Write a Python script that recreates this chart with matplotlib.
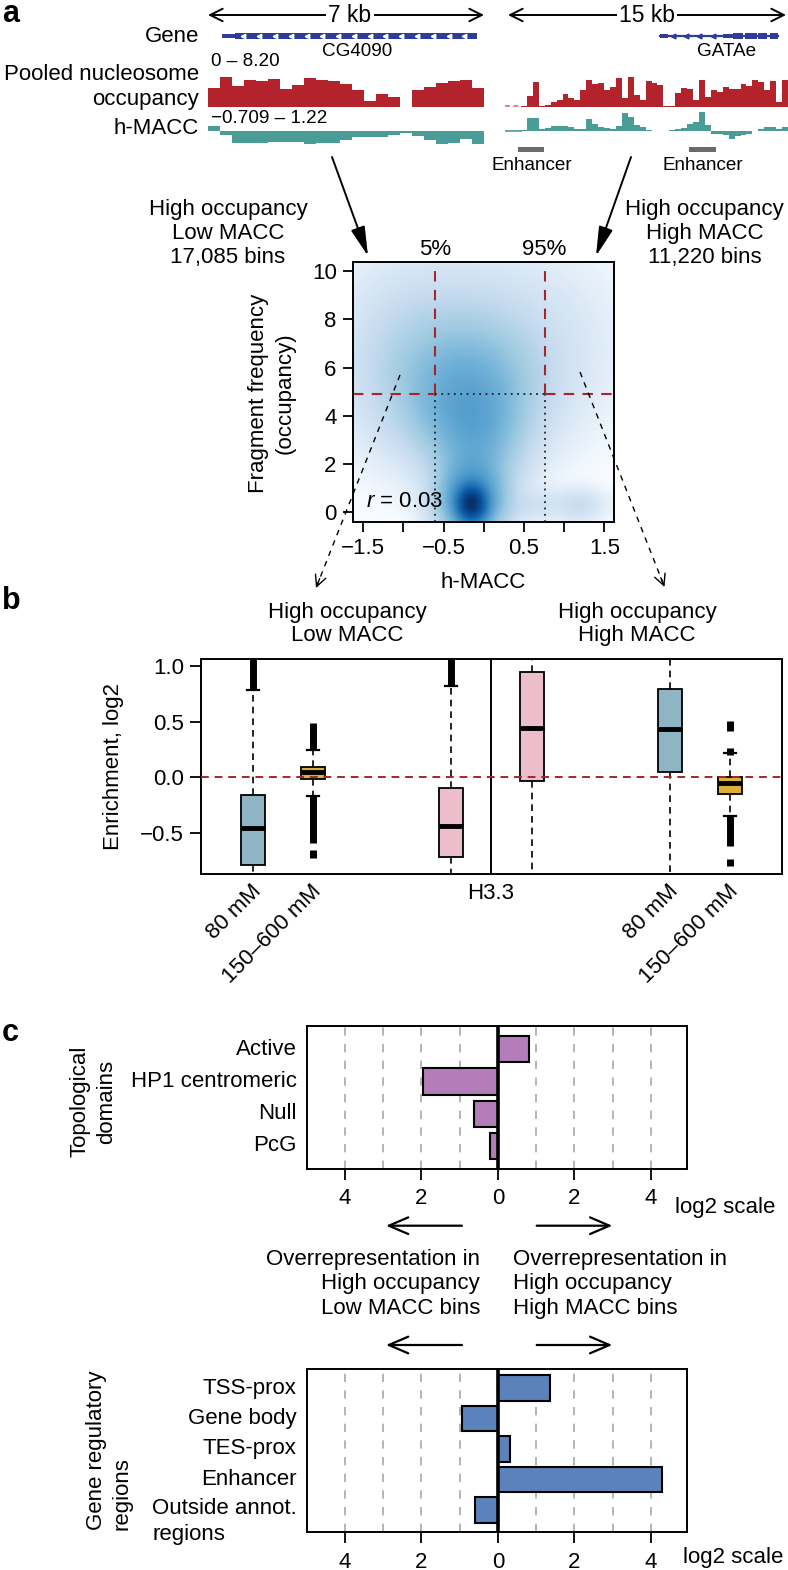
import numpy as np
import matplotlib
matplotlib.use("Agg")
import matplotlib.pyplot as plt
import matplotlib.transforms as mtransforms
from matplotlib.colors import LinearSegmentedColormap
from matplotlib.patches import Rectangle

plt.rcParams['font.family'] = ['Liberation Sans', 'DejaVu Sans']
plt.rcParams['mathtext.fontset'] = 'custom'
plt.rcParams['mathtext.rm'] = 'Liberation Sans'
plt.rcParams['mathtext.it'] = 'Liberation Sans:italic'
plt.rcParams['axes.linewidth'] = 1.4

# ---------------- data ----------------
# panel a: genome browser tracks
occ_left = [5.2, 8.2, 5.7, 7.4, 7.0, 7.7, 4.9, 5.9, 7.9, 7.5, 7.0, 6.3, 4.7, 1.7,
            3.6, 2.7, 0.1, 4.6, 5.5, 6.6, 7.0, 7.3, 5.2]
macc_left = [0.29, -0.20, -0.64, -0.64, -0.64, -0.56, -0.56, -0.56, -0.70, -0.61,
             -0.61, -0.47, -0.29, -0.29, -0.32, -0.20, -0.11, -0.25, -0.47, -0.70,
             -0.61, -0.43, -0.70]
occ_right = [0.36, 2.9, 6.7, 0.36, 0.64, 1.3, 2.0, 3.6, 2.5, 1.8, 4.7, 7.3, 6.4, 6.6,
             4.6, 5.5, 7.9, 2.5, 8.2, 3.4, 2.0, 7.0, 6.6, 5.9, 0.2, 0.2, 3.8, 5.2, 4.9,
             2.0, 7.5, 2.6, 4.6, 4.0, 5.5, 4.9, 4.9, 6.4, 5.8, 7.3, 6.7, 4.7, 7.0, 1.5, 7.5]
macc_right = [0.05, 0.72, 0.72, 0.14, 0.18, 0.27, 0.27, 0.27, 0.23, 0.14, 0.14, 0.64,
              0.41, 0.23, 0.18, 0.11, 0.27, 1.0, 0.77, 0.32, 0.23, 0.09, 0.02, 0.0,
              0.0, 0.09, 0.14, 0.20, 0.41, 0.50, 1.04, 0.32, -0.13, -0.13, -0.21,
              -0.39, -0.25, -0.18, -0.13, 0.0, 0.14, 0.23, 0.23, 0.11, 0.23]
occ_range = (0, 8.20)
macc_range = (-0.709, 1.22)
left_window_kb = 7
right_window_kb = 15
right_missing_kb = 0.85
gene1_span = (0.355, 6.82)
gene1_utr = (0.355, 0.68)
gene1_chevrons = [0.9, 1.3, 1.7, 2.1, 2.5, 2.9, 3.3, 3.7, 4.1, 4.5, 4.9, 5.3, 5.7, 6.1, 6.5]
gene2_span = (8.21, 14.47)
gene2_exons = [(8.21, 8.64, 0.3), (11.55, 12.1, 0.3), (12.1, 12.6, 0.5),
               (12.74, 13.36, 0.5), (13.42, 13.87, 0.5), (14.05, 14.47, 0.5)]
gene2_chevrons = [8.9, 9.6, 10.3, 11.0]
enhancers_kb = [(0.67, 2.08), (9.77, 11.18)]

# density (smoothed scatter) components: centre x, centre y, sd x, sd y, weight
dens_cx = [-0.15, -0.15, -0.10, -0.20, -0.25, -0.30, 0.60, 1.20, -1.0, 0.9]
dens_cy = [0.35, 0.60, 2.80, 4.20, 5.50, 6.50, 0.30, 0.30, 6.5, 7.5]
dens_sx = [0.11, 0.22, 0.30, 0.40, 0.50, 0.80, 0.50, 0.15, 0.35, 0.5]
dens_sy = [0.45, 0.90, 1.30, 1.20, 1.50, 2.20, 0.40, 0.40, 2.0, 2.0]
dens_w = [1.0, 0.25, 0.08, 0.07, 0.08, 0.02, 0.008, 0.008, 0.006, 0.002]
pct5 = -0.608
pct95 = 0.756
occ_threshold = 4.89
corr_r = 0.03

# panel b: box plots
box_pos = [1.0, 2.0, 4.3, 5.65, 7.95, 8.95]
box_labels = ['80 mM', '150–600 mM', '', '', '80 mM', '150–600 mM']
box_q1 = [-0.79, -0.015, -0.713, -0.03, 0.048, -0.15]
box_med = [-0.458, 0.048, -0.435, 0.44, 0.43, -0.054]
box_q3 = [-0.159, 0.095, -0.099, 0.943, 0.79, 0.0]
box_whislo = [-1.2, -0.165, -1.2, -1.2, -1.2, -0.348]
box_whishi = [0.785, 0.245, 0.82, 1.3, 1.3, 0.22]
box_outlier_ranges = [[(0.785, 1.1)],
                      [(0.245, 0.485), (-0.593, -0.165), (-0.722, -0.653)],
                      [(0.82, 1.1)],
                      [],
                      [],
                      [(0.42, 0.51), (0.20, 0.26), (-0.62, -0.348), (-0.80, -0.73)]]
box_colors = ['#8FB4C4', '#DAB03A', '#ECBECC', '#ECBECC', '#8FB4C4', '#DAB03A']
group_sep = 4.97
sep_label = 'H3.3'

# panel c: enrichment bars
topo_cats = ['Active', 'HP1 centromeric', 'Null', 'PcG']
topo_vals = [0.8, -1.96, -0.63, -0.22]
reg_cats = ['TSS-prox', 'Gene body', 'TES-prox', 'Enhancer', 'Outside annot.\nregions']
reg_vals = [1.36, -0.93, 0.31, 4.3, -0.59]
bar_ticks = [-4, -2, 0, 2, 4]
bar_grid = [-4, -3, -2, -1, 1, 2, 3, 4]

# ---------------- figure ----------------
W, H = 788, 1570
fig = plt.figure(figsize=(W / 100, H / 100), dpi=100)


def px_axes(x0, y0, x1, y1):
    return fig.add_axes([x0 / W, 1 - y1 / H, (x1 - x0) / W, (y1 - y0) / H])


RED = '#B3232B'
TEAL = '#4A9C96'
GBLUE = '#2E3B9B'
DRED = '#A3282C'
FS = 16

# ---- panel a tracks ----
def track(x0, x1, y0, y1, xmax, ylim):
    ax = px_axes(x0, y0, x1, y1)
    ax.set_xlim(0, xmax)
    ax.set_ylim(*ylim)
    ax.axis('off')
    return ax

# genes
ag1 = track(208, 484, 30, 42, left_window_kb, (-1, 1))
ag1.add_patch(Rectangle((gene1_utr[1], -0.5), gene1_span[1] - gene1_utr[1], 1.0, color=GBLUE, lw=0))
ag1.add_patch(Rectangle((gene1_utr[0], -0.3), gene1_utr[1] - gene1_utr[0], 0.6, color=GBLUE, lw=0))
ag1.plot(gene1_chevrons, [0] * len(gene1_chevrons), ls='none', marker='<', ms=3.2,
         mfc='white', mec='white')
ag2 = track(505, 788, 30, 42, right_window_kb, (-1, 1))
ag2.plot(gene2_span, [0, 0], color=GBLUE, lw=1.6)
for s, e, hh in gene2_exons:
    ag2.add_patch(Rectangle((s, -hh), e - s, 2 * hh, color=GBLUE, lw=0))
ag2.plot(gene2_chevrons, [0] * len(gene2_chevrons), ls='none', marker='<', ms=3.5,
         mfc=GBLUE, mec=GBLUE)

# occupancy
ar1 = track(208, 484, 77, 107, left_window_kb, occ_range)
w1 = left_window_kb / len(occ_left)
ar1.bar([i * w1 for i in range(len(occ_left))], occ_left, width=w1, align='edge', color=RED, lw=0)
ar2 = track(505, 788, 77, 107, right_window_kb, occ_range)
w2 = (right_window_kb - right_missing_kb) / len(occ_right)
ar2.bar([right_missing_kb + i * w2 for i in range(len(occ_right))], occ_right, width=w2,
        align='edge', color=RED, lw=0)
ar2.plot([0, right_missing_kb], [0.25, 0.25], color='#E07070', lw=1.2, ls=(0, (3, 2)))

# h-MACC
at1 = track(208, 484, 108.6, 144.5, left_window_kb, macc_range)
at1.bar([i * w1 for i in range(len(macc_left))], macc_left, width=w1, align='edge', color=TEAL, lw=0)
at2 = track(505, 788, 108.6, 144.5, right_window_kb, macc_range)
at2.bar([right_missing_kb + i * w2 for i in range(len(macc_right))], macc_right, width=w2,
        align='edge', color=TEAL, lw=0)
at2.plot([0, right_missing_kb], [0, 0], color=TEAL, lw=1.2)

# enhancers
ae = track(505, 788, 146, 153, right_window_kb, (0, 1))
for s, e in enhancers_kb:
    ae.add_patch(Rectangle((s, 0.1), e - s, 0.8, color='#6A6A6A', lw=0))

# ---- density plot ----
axd = px_axes(353.3, 262.3, 614, 521.7)
xl = (-1.624, 1.62)
yl = (-0.39, 10.36)
xs = np.linspace(xl[0], xl[1], 400)
ys = np.linspace(yl[0], yl[1], 400)
X, Y = np.meshgrid(xs, ys)
Z = np.zeros_like(X)
for cx, cy, sx, sy, wt in zip(dens_cx, dens_cy, dens_sx, dens_sy, dens_w):
    Z += wt * np.exp(-0.5 * (((X - cx) / sx) ** 2 + ((Y - cy) / sy) ** 2))
Z = (Z / Z.max()) ** 0.25
blues9 = ["#F7FBFF", "#DEEBF7", "#C6DBEF", "#9ECAE1", "#6BAED6", "#4292C6",
          "#2171B5", "#08519C", "#08306B"]
cmap = LinearSegmentedColormap.from_list('smooth', ['#FFFFFF'] + blues9)
axd.imshow(Z, origin='lower', extent=[xl[0], xl[1], yl[0], yl[1]], cmap=cmap,
           aspect='auto', vmin=0, vmax=1, interpolation='bilinear')
axd.set_xlim(*xl)
axd.set_ylim(*yl)
red_ls = (0, (5, 4))
dot_ls = (0, (1, 2.5))
for xv in (pct5, pct95):
    axd.plot([xv, xv], [occ_threshold, yl[1]], color=DRED, lw=1.5, ls=red_ls)
    axd.plot([xv, xv], [yl[0], occ_threshold], color='#222222', lw=1.3, ls=dot_ls)
axd.plot([xl[0], pct5], [occ_threshold] * 2, color=DRED, lw=1.5, ls=red_ls)
axd.plot([pct95, xl[1]], [occ_threshold] * 2, color=DRED, lw=1.5, ls=red_ls)
axd.plot([pct5, pct95], [occ_threshold] * 2, color='#222222', lw=1.3, ls=dot_ls)
axd.set_xticks([-1.5, -1, -0.5, 0, 0.5, 1, 1.5])
axd.set_xticklabels(['−1.5', '', '−0.5', '', '0.5', '', '1.5'], fontsize=FS)
axd.set_yticks([0, 2, 4, 6, 8, 10])
axd.set_yticklabels(['0', '2', '4', '6', '8', '10'], fontsize=FS)
axd.tick_params(direction='out', length=7, width=1.3, pad=5)
axd.text(-1.466, 0.45, '$\\it{r}$ = %.2f' % corr_r, fontsize=FS, ha='left', va='center')
axd.text(pct5, 10.87, '5%', fontsize=FS, ha='center', va='center', clip_on=False)
axd.text(pct95, 10.87, '95%', fontsize=FS, ha='center', va='center', clip_on=False)

# ---- box plot ----
axb = px_axes(200.7, 659, 782.3, 874.3)
stats = [dict(med=m, q1=a, q3=b, whislo=lo, whishi=hi, fliers=[])
         for m, a, b, lo, hi in zip(box_med, box_q1, box_q3, box_whislo, box_whishi)]
bp = axb.bxp(stats, positions=box_pos, widths=0.4, patch_artist=True, showfliers=False,
             boxprops=dict(linewidth=1.3, edgecolor='black'),
             medianprops=dict(color='black', linewidth=3.5, solid_capstyle='butt'),
             whiskerprops=dict(linestyle=(0, (4, 3)), linewidth=1.2, color='black'),
             capprops=dict(linewidth=1.6, color='black'), capwidths=0.2, manage_ticks=False)
for patch, c in zip(bp['boxes'], box_colors):
    patch.set_facecolor(c)
for p, rngs in zip(box_pos, box_outlier_ranges):
    for lo, hi in rngs:
        axb.plot([p, p], [lo, hi], color='black', lw=5, solid_capstyle='butt', zorder=4)
axb.axhline(0, color=DRED, lw=1.4, ls=(0, (4, 3)), zorder=5)
axb.axvline(group_sep, color='black', lw=1.4)
axb.set_xlim(0.133, 9.827)
axb.set_ylim(-0.871, 1.063)
axb.set_xticks([])
axb.set_yticks([-0.5, 0, 0.5, 1.0])
axb.set_yticklabels(['−0.5', '0.0', '0.5', '1.0'], fontsize=FS)
axb.tick_params(axis='y', direction='out', length=8, width=1.3, pad=4)
btrans = mtransforms.blended_transform_factory(axb.transData, axb.transAxes)
for p, lab in zip(box_pos, box_labels):
    if lab:
        axb.text(p + 0.09, -0.063, lab, transform=btrans, fontsize=FS, rotation=45,
                 rotation_mode='anchor', ha='right', va='center', clip_on=False)
axb.text(group_sep, -0.088, sep_label, transform=btrans, fontsize=FS, ha='center',
         va='center', clip_on=False)

# ---- bar charts ----
def barchart(y0, y1, cats, vals, color, ylim, height):
    ax = px_axes(306.7, y0, 687.3, y1)
    pos = list(range(len(cats)))
    for g in bar_grid:
        ax.axvline(g, color='#A8A8A8', lw=1.2, ls=(0, (5, 5)), zorder=0)
    ax.barh(pos, vals, height=height, color=color, edgecolor='black', lw=1.5, zorder=2)
    ax.axvline(0, color='black', lw=2.6, zorder=3)
    ax.set_xlim(-5, 4.95)
    ax.set_ylim(*ylim)
    ax.set_yticks([])
    ax.set_xticks(bar_ticks)
    ax.set_xticklabels([str(abs(t)) for t in bar_ticks], fontsize=FS)
    ax.tick_params(axis='x', direction='out', length=8, width=1.3, pad=6)
    tr = mtransforms.blended_transform_factory(ax.transAxes, ax.transData)
    for p, c in zip(pos, cats):
        if '\n' in c:
            ax.text(-0.026, p - 0.38, c, transform=tr, fontsize=FS, ha='right', va='top',
                    multialignment='left', linespacing=1.3)
        else:
            ax.text(-0.026, p, c, transform=tr, fontsize=FS, ha='right', va='center')
    return ax

ac1 = barchart(1025.7, 1169, topo_cats, topo_vals, '#B27DB9', (3.714, -0.733), 0.81)
ac2 = barchart(1369.3, 1532.3, reg_cats, reg_vals, '#5B82BA', (4.74, -0.62), 0.84)

# ---------------- overlay: labels & arrows ----------------
ov = fig.add_axes([0, 0, 1, 1])
ov.set_xlim(0, W)
ov.set_ylim(H, 0)
ov.axis('off')
ov.patch.set_visible(False)


def T(x, y, s, size=FS, ha='center', va='center', **kw):
    ov.text(x, y, s, fontsize=size, ha=ha, va=va, **kw)


def arrow(x0, y0, x1, y1, style='->', lw=1.4, ms=18, ls='-'):
    ov.annotate('', xy=(x1, y1), xytext=(x0, y0),
                arrowprops=dict(arrowstyle=style, lw=lw, color='black', mutation_scale=ms,
                                shrinkA=0, shrinkB=0, linestyle=ls))

# panel letters
T(2, 14, 'a', size=22, ha='left', weight='bold')
T(2, 601, 'b', size=22, ha='left', weight='bold')
T(2, 1033, 'c', size=22, ha='left', weight='bold')

# panel a
arrow(350, 15, 208, 15, style='->, head_length=0.5, head_width=0.25')
arrow(350, 15, 484, 15, style='->, head_length=0.5, head_width=0.25')
T(350, 15, '7 kb', size=16.5, bbox=dict(facecolor='white', edgecolor='none', pad=1.5))
arrow(647, 15, 508, 15, style='->, head_length=0.5, head_width=0.25')
arrow(647, 15, 786, 15, style='->, head_length=0.5, head_width=0.25')
T(647, 15, '15 kb', size=16.5, bbox=dict(facecolor='white', edgecolor='none', pad=1.5))
T(199, 37, 'Gene', ha='right')
T(199, 86.5, 'Pooled nucleosome\noccupancy', ha='right', multialignment='right', linespacing=1.25)
T(199, 128.5, 'h-MACC', ha='right')
T(211, 62, '0 – 8.20', size=13.6, ha='left')
T(211, 118.5, '−0.709 – 1.22', size=13.6, ha='left')
T(357, 52, 'CG4090', size=13.6)
T(727, 52, 'GATAe', size=13.6)
T(531.7, 165, 'Enhancer', size=13.6)
T(703.3, 165, 'Enhancer', size=13.6)

arrow(332, 157, 368, 256, style='-|>, head_length=0.9, head_width=0.22', lw=1.4, ms=20)
arrow(631, 157, 596, 256, style='-|>, head_length=0.9, head_width=0.22', lw=1.4, ms=20)
T(228, 233.3, 'High occupancy\nLow MACC\n17,085 bins', linespacing=1.2)
T(704.5, 233.3, 'High occupancy\nHigh MACC\n11,220 bins', linespacing=1.2)

T(272, 393, 'Fragment frequency\n(occupancy)', rotation=90, linespacing=1.35)
T(483, 583, 'h-MACC')

# dashed arrows from density to panel b
for (x0, y0, x1, y1) in [(400, 375, 316, 588), (580, 372, 664.5, 587)]:
    ov.plot([x0, x1], [y0, y1], color='black', lw=1.0, ls=(0, (4, 4)))
    dx, dy = x1 - x0, y1 - y0
    L = np.hypot(dx, dy)
    arrow(x1 - dx / L * 10, y1 - dy / L * 10, x1, y1,
          style='->, head_length=0.5, head_width=0.25', lw=1.0, ms=16)

# panel b
T(347, 624, 'High occupancy\nLow MACC', linespacing=1.15)
T(637, 624, 'High occupancy\nHigh MACC', linespacing=1.15)
T(113.5, 766.7, 'Enrichment, log2', rotation=90)

# panel c
T(93, 1101.7, 'Topological\ndomains', rotation=90, linespacing=1.35)
T(109.5, 1450, 'Gene regulatory\nregions', rotation=90, linespacing=1.3, multialignment='left')
T(675, 1208, 'log2 scale', ha='left')
T(683, 1558, 'log2 scale', ha='left')
for yy in (1225.7, 1345):
    arrow(462, yy, 386, yy, style='->, head_length=0.7, head_width=0.3', lw=1.6, ms=20)
    arrow(536.7, yy, 612.3, yy, style='->, head_length=0.7, head_width=0.3', lw=1.6, ms=20)
T(480, 1284, 'Overrepresentation in\nHigh occupancy\nLow MACC bins', ha='right',
  multialignment='right', linespacing=1.2)
T(513, 1284, 'Overrepresentation in\nHigh occupancy\nHigh MACC bins', ha='left',
  multialignment='left', linespacing=1.2)

fig.savefig('out.png', dpi=100)
